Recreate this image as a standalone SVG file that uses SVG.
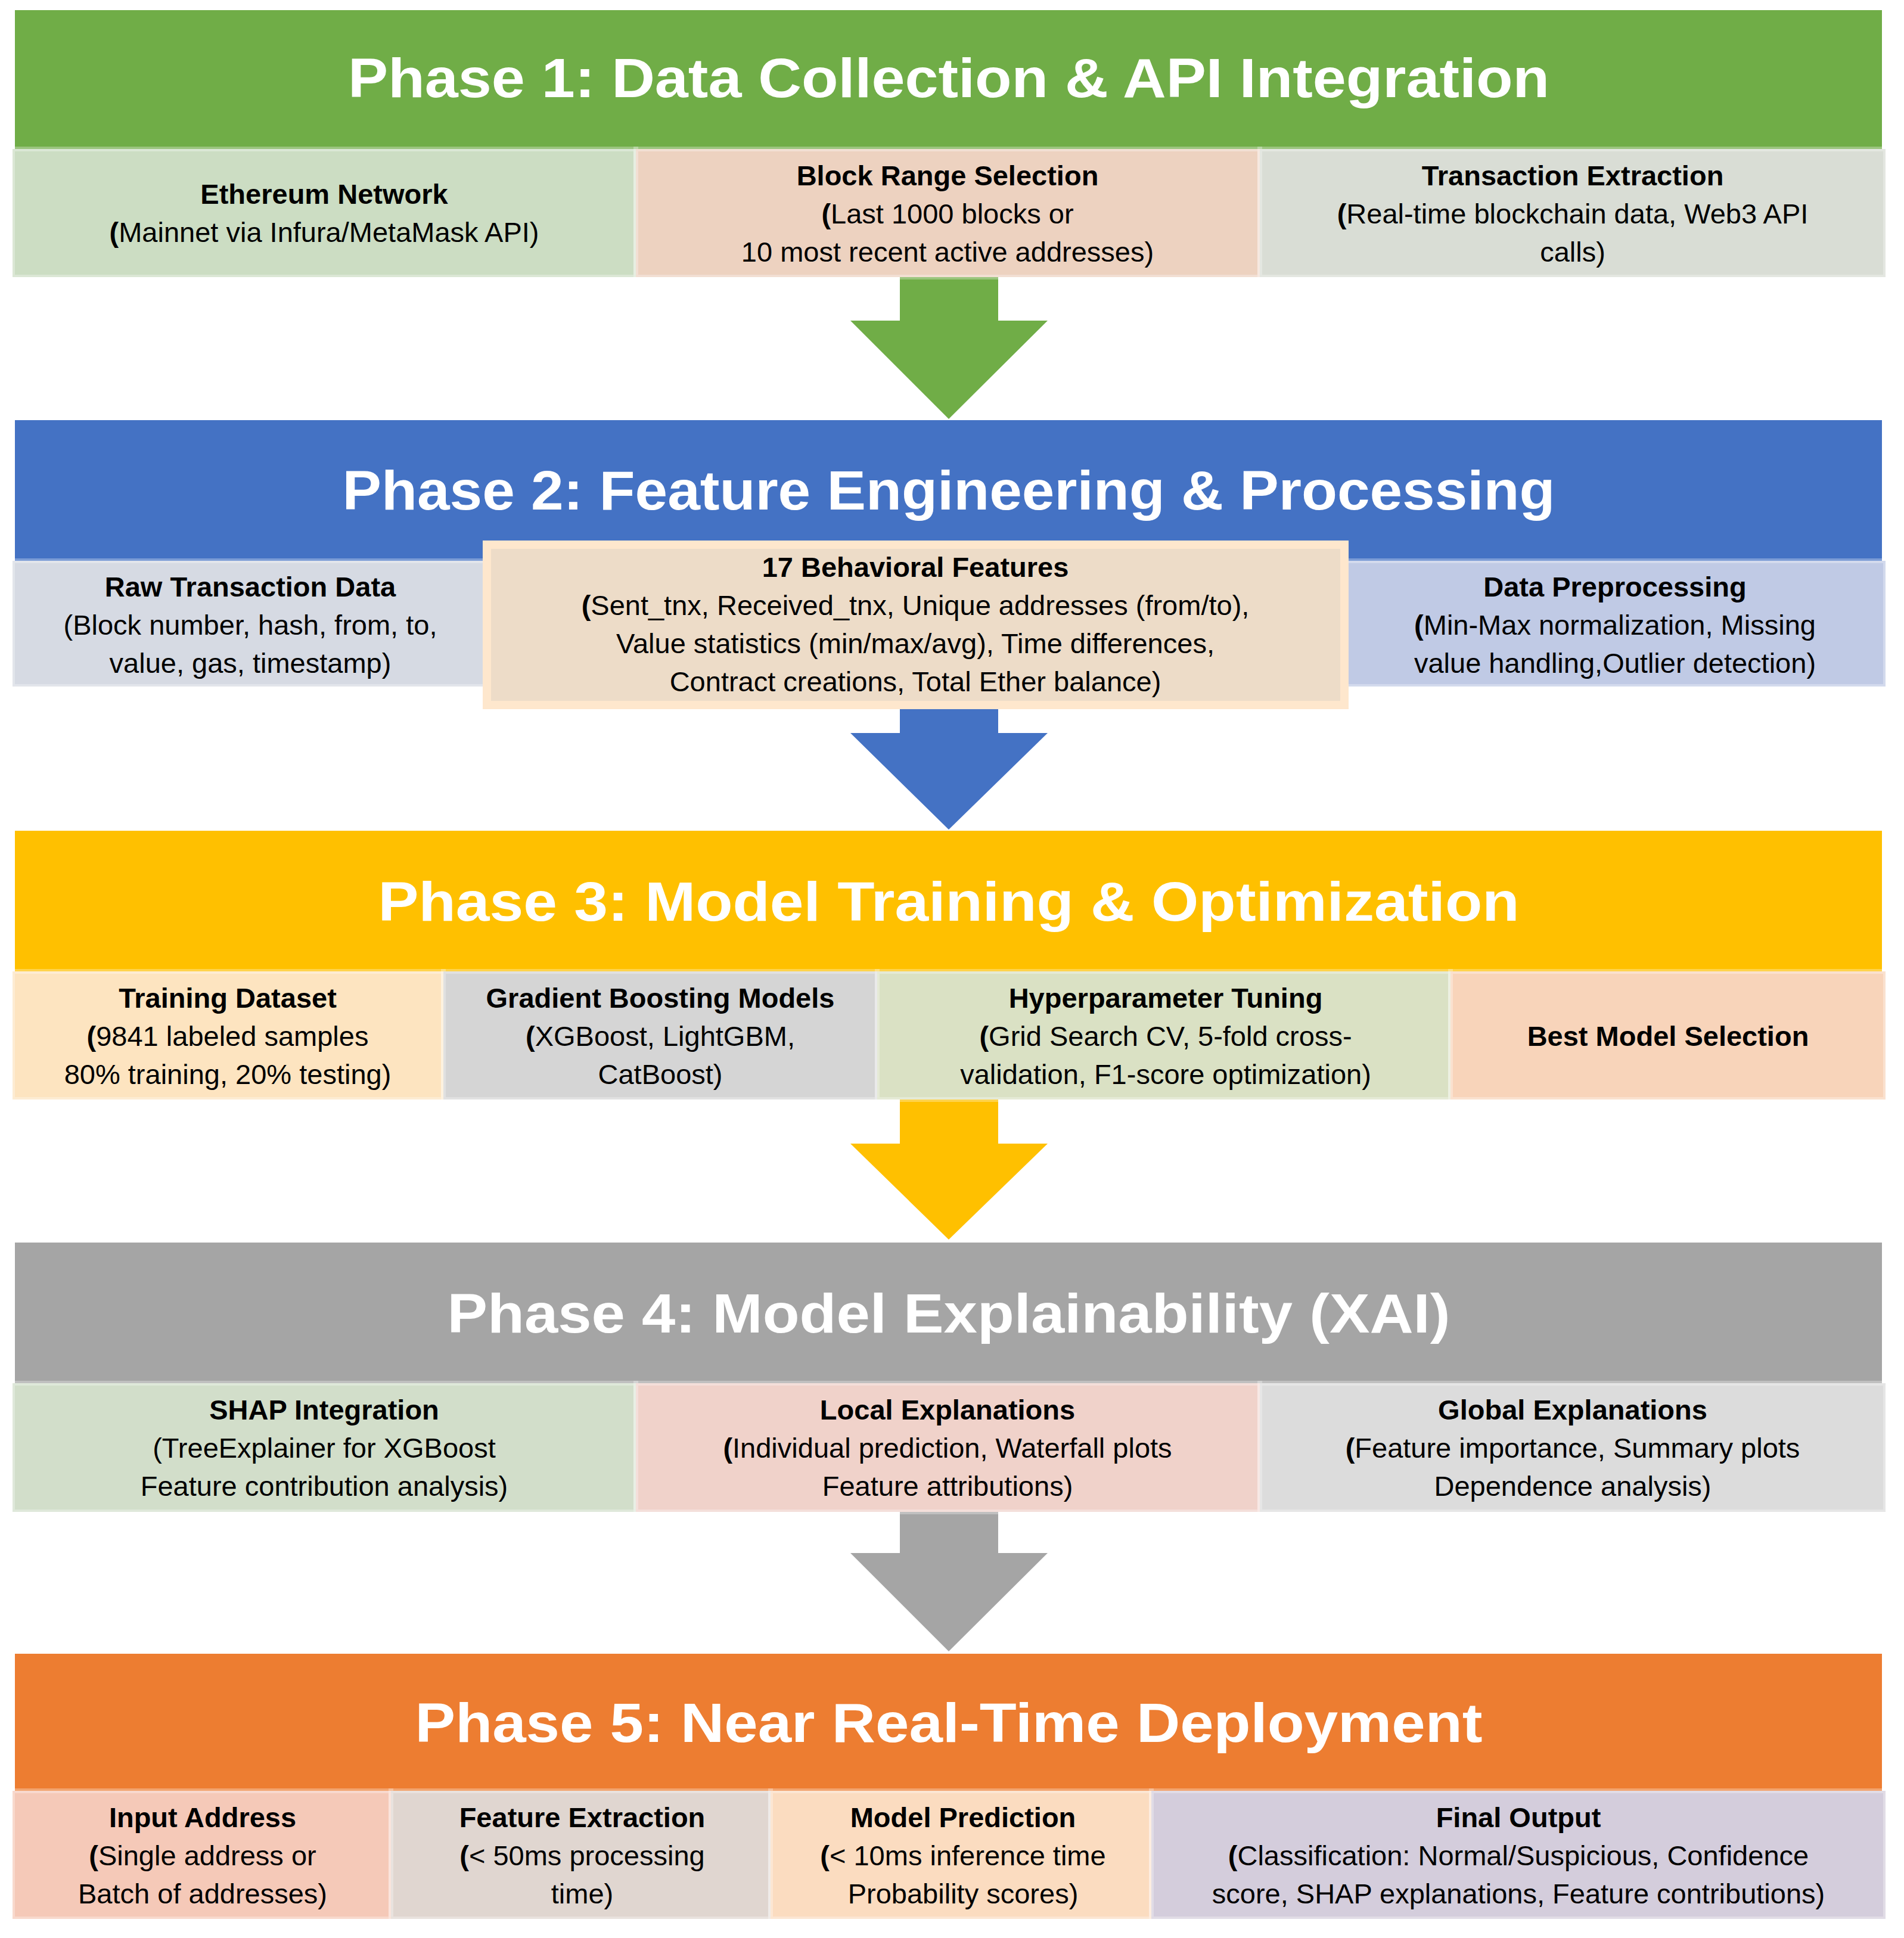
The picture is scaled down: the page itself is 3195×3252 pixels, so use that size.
<svg xmlns="http://www.w3.org/2000/svg" width="3195" height="3252" viewBox="0 0 3195 3252">
<style>
.t{font-family:"Liberation Sans","Open Sans",sans-serif;font-weight:bold;font-size:92px;fill:#fff;text-anchor:middle}
.b{font-family:"Liberation Sans","Open Sans",sans-serif;font-size:47px;fill:#000;text-anchor:middle}
.h{font-weight:bold}
.bx{stroke:#fff;stroke-opacity:0.3;stroke-width:8}
</style>
<rect width="3195" height="3252" fill="#fff"/>
<g id="connectors">
<polygon points="1510,465 1675,465 1675,538 1758,538 1592,703 1427,538 1510,538" fill="#70AD47"/>
<polygon points="1510,1170 1675,1170 1675,1230 1758,1230 1592,1392 1427,1230 1510,1230" fill="#4472C4"/>
<polygon points="1510,1845 1675,1845 1675,1919 1758,1919 1592,2080 1427,1919 1510,1919" fill="#FFC000"/>
<polygon points="1510,2537 1675,2537 1675,2606 1758,2606 1592,2771 1427,2606 1510,2606" fill="#A5A5A5"/>
</g>
<g id="phase1">
<rect x="25" y="17" width="3133" height="233" fill="#70AD47"/>
<text class="t" x="1592" y="163" textLength="2016" lengthAdjust="spacingAndGlyphs">Phase 1: Data Collection &amp; API Integration</text>
</g>
<g id="p1a"><rect class="bx" x="21" y="250" width="1046" height="215" fill="#CCDDC3"/>
<text class="b" x="544" y="342"><tspan class="h">Ethereum Network</tspan></text>
<text class="b" x="544" y="406"><tspan class="h">(</tspan>Mainnet via Infura/MetaMask API)</text></g>
<g id="p1b"><rect class="bx" x="1067" y="250" width="1047" height="215" fill="#EDD2C0"/>
<text class="b" x="1590" y="311"><tspan class="h">Block Range Selection</tspan></text>
<text class="b" x="1590" y="375"><tspan class="h">(</tspan>Last 1000 blocks or</text>
<text class="b" x="1590" y="439">10 most recent active addresses)</text></g>
<g id="p1c"><rect class="bx" x="2114" y="250" width="1050" height="215" fill="#D9DDD5"/>
<text class="b" x="2639" y="311"><tspan class="h">Transaction Extraction</tspan></text>
<text class="b" x="2639" y="375"><tspan class="h">(</tspan>Real-time blockchain data, Web3 API</text>
<text class="b" x="2639" y="439">calls)</text></g>

<g id="phase2">
<rect x="25" y="705" width="3133" height="236" fill="#4472C4"/>
<text class="t" x="1592" y="855" textLength="2035" lengthAdjust="spacingAndGlyphs">Phase 2: Feature Engineering &amp; Processing</text>
</g>
<g id="p2a"><rect class="bx" x="21" y="941" width="796" height="211" fill="#D6DAE3"/>
<text class="b" x="420" y="1001"><tspan class="h">Raw Transaction Data</tspan></text>
<text class="b" x="420" y="1065">(Block number, hash, from, to,</text>
<text class="b" x="420" y="1129">value, gas, timestamp)</text></g>
<g id="p2c"><rect class="bx" x="2250" y="941" width="914" height="211" fill="#C0CAE5"/>
<text class="b" x="2710" y="1001"><tspan class="h">Data Preprocessing</tspan></text>
<text class="b" x="2710" y="1065"><tspan class="h">(</tspan>Min-Max normalization, Missing</text>
<text class="b" x="2710" y="1129">value handling,Outlier detection)</text></g>
<g id="p2b"><rect x="817" y="914" width="1439" height="269" fill="#EDDCC8" stroke="#FEE7CD" stroke-width="14"/>
<text class="b" x="1536" y="968"><tspan class="h">17 Behavioral Features</tspan></text>
<text class="b" x="1536" y="1032"><tspan class="h">(</tspan>Sent_tnx, Received_tnx, Unique addresses (from/to),</text>
<text class="b" x="1536" y="1096">Value statistics (min/max/avg), Time differences,</text>
<text class="b" x="1536" y="1160">Contract creations, Total Ether balance)</text></g>

<g id="phase3">
<rect x="25" y="1394" width="3133" height="236" fill="#FFC000"/>
<text class="t" x="1592" y="1545" textLength="1915" lengthAdjust="spacingAndGlyphs">Phase 3: Model Training &amp; Optimization</text>
</g>
<g id="p3a"><rect class="bx" x="21" y="1630" width="723" height="215" fill="#FDE4C0"/>
<text class="b" x="382" y="1691"><tspan class="h">Training Dataset</tspan></text>
<text class="b" x="382" y="1755"><tspan class="h">(</tspan>9841 labeled samples</text>
<text class="b" x="382" y="1819">80% training, 20% testing)</text></g>
<g id="p3b"><rect class="bx" x="744" y="1630" width="728" height="215" fill="#D5D5D5"/>
<text class="b" x="1108" y="1691"><tspan class="h">Gradient Boosting Models</tspan></text>
<text class="b" x="1108" y="1755"><tspan class="h">(</tspan>XGBoost, LightGBM,</text>
<text class="b" x="1108" y="1819">CatBoost)</text></g>
<g id="p3c"><rect class="bx" x="1472" y="1630" width="962" height="215" fill="#DAE1C4"/>
<text class="b" x="1956" y="1691"><tspan class="h">Hyperparameter Tuning</tspan></text>
<text class="b" x="1956" y="1755"><tspan class="h">(</tspan>Grid Search CV, 5-fold cross-</text>
<text class="b" x="1956" y="1819">validation, F1-score optimization)</text></g>
<g id="p3d"><rect class="bx" x="2434" y="1630" width="730" height="215" fill="#F8D4BA"/>
<text class="b" x="2799" y="1755"><tspan class="h">Best Model Selection</tspan></text></g>

<g id="phase4">
<rect x="25" y="2085" width="3133" height="236" fill="#A5A5A5"/>
<text class="t" x="1592" y="2236" textLength="1683" lengthAdjust="spacingAndGlyphs">Phase 4: Model Explainability (XAI)</text>
</g>
<g id="p4a"><rect class="bx" x="21" y="2321" width="1046" height="216" fill="#D2DECA"/>
<text class="b" x="544" y="2382"><tspan class="h">SHAP Integration</tspan></text>
<text class="b" x="544" y="2446">(TreeExplainer for XGBoost</text>
<text class="b" x="544" y="2510">Feature contribution analysis)</text></g>
<g id="p4b"><rect class="bx" x="1067" y="2321" width="1047" height="216" fill="#F0D2CA"/>
<text class="b" x="1590" y="2382"><tspan class="h">Local Explanations</tspan></text>
<text class="b" x="1590" y="2446"><tspan class="h">(</tspan>Individual prediction, Waterfall plots</text>
<text class="b" x="1590" y="2510">Feature attributions)</text></g>
<g id="p4c"><rect class="bx" x="2114" y="2321" width="1050" height="216" fill="#DCDCDC"/>
<text class="b" x="2639" y="2382"><tspan class="h">Global Explanations</tspan></text>
<text class="b" x="2639" y="2446"><tspan class="h">(</tspan>Feature importance, Summary plots</text>
<text class="b" x="2639" y="2510">Dependence analysis)</text></g>

<g id="phase5">
<rect x="25" y="2775" width="3133" height="230" fill="#ED7D31"/>
<text class="t" x="1592" y="2923" textLength="1791" lengthAdjust="spacingAndGlyphs">Phase 5: Near Real-Time Deployment</text>
</g>
<g id="p5a"><rect class="bx" x="21" y="3005" width="635" height="215" fill="#F5C9B8"/>
<text class="b" x="340" y="3066"><tspan class="h">Input Address</tspan></text>
<text class="b" x="340" y="3130"><tspan class="h">(</tspan>Single address or</text>
<text class="b" x="340" y="3194">Batch of addresses)</text></g>
<g id="p5b"><rect class="bx" x="656" y="3005" width="637" height="215" fill="#E0D6D0"/>
<text class="b" x="977" y="3066"><tspan class="h">Feature Extraction</tspan></text>
<text class="b" x="977" y="3130"><tspan class="h">(</tspan>&lt; 50ms processing</text>
<text class="b" x="977" y="3194">time)</text></g>
<g id="p5c"><rect class="bx" x="1293" y="3005" width="639" height="215" fill="#FBDCC0"/>
<text class="b" x="1616" y="3066"><tspan class="h">Model Prediction</tspan></text>
<text class="b" x="1616" y="3130"><tspan class="h">(</tspan>&lt; 10ms inference time</text>
<text class="b" x="1616" y="3194">Probability scores)</text></g>
<g id="p5d"><rect class="bx" x="1932" y="3005" width="1232" height="215" fill="#D4CDDC"/>
<text class="b" x="2548" y="3066"><tspan class="h">Final Output</tspan></text>
<text class="b" x="2548" y="3130"><tspan class="h">(</tspan>Classification: Normal/Suspicious, Confidence</text>
<text class="b" x="2548" y="3194">score, SHAP explanations, Feature contributions)</text></g>
</svg>
